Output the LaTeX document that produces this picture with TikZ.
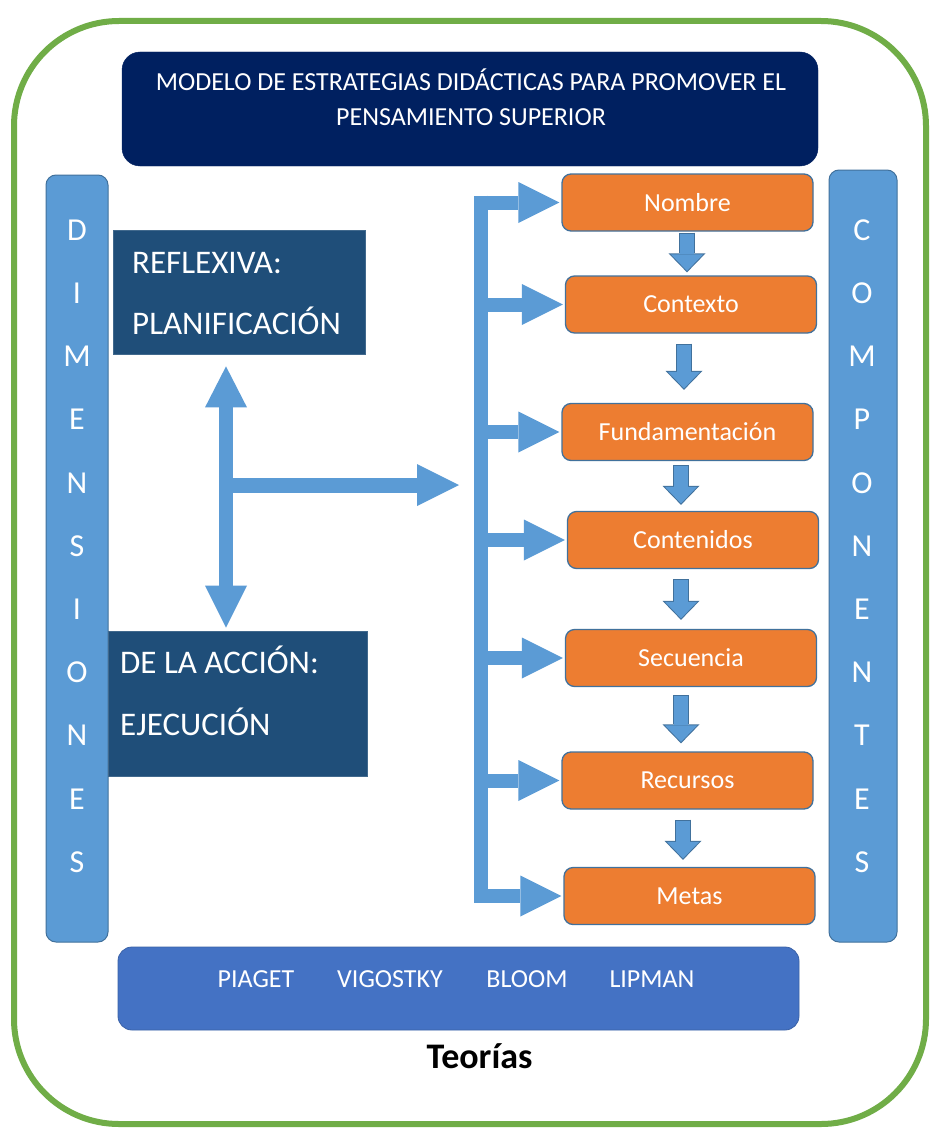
\documentclass[tikz,border=0pt]{standalone}
\usepackage{fontspec}
\setmainfont{Carlito}
\usetikzlibrary{arrows.meta,calc}
\definecolor{frgreen}{HTML}{70AD47}
\definecolor{navy}{HTML}{002060}
\definecolor{barblue}{HTML}{5B9BD5}
\definecolor{bordblue}{HTML}{41719C}
\definecolor{dimblue}{HTML}{1F4E79}
\definecolor{orng}{HTML}{ED7D31}
\definecolor{teoblue}{HTML}{4472C4}
\newcommand\blockdown[5]{%
  \pgfmathsetmacro\shA{#4+1}%
  \pgfmathsetmacro\shB{#5+1.43}%
  \coordinate (tmpx) at (#1,0);
  \draw[line width=16pt, draw=bordblue, shorten <=#4pt, shorten >=#5pt,
        -{Triangle[width=37pt,length=19pt,line width=0pt]}] (tmpx |- #2.south) -- (tmpx |- #3.north);
  \draw[line width=14pt, draw=barblue, shorten <=\shA pt, shorten >=\shB pt,
        -{Triangle[width=32.3pt,length=16.6pt,line width=0pt]}] (tmpx |- #2.south) -- (tmpx |- #3.north);
}
\begin{document}
\begin{tikzpicture}[x=1pt,y=-1pt,
  comp/.style={draw=bordblue, line width=1.3pt, fill=orng, rounded corners=9pt,
    minimum width=251pt, minimum height=57pt, text=white,
    font=\fontsize{26}{30}\selectfont, inner sep=0pt},
  sidebar/.style={draw=bordblue, line width=1pt, fill=barblue, rounded corners=10pt, inner sep=0pt},
  barletter/.style={text=white, font=\fontsize{32}{36}\selectfont, inner sep=0pt},
  dimbox/.style={fill=dimblue, draw=dimblue!85!white, line width=0.8pt, inner sep=0pt},
  dimtext/.style={text=white, font=\fontsize{33}{36}\selectfont, inner sep=0pt, anchor=base west},
  titletext/.style={text=white, font=\fontsize{26}{30}\selectfont, inner sep=0pt, anchor=base},
  teotext/.style={text=white, font=\fontsize{26}{30}\selectfont, inner sep=0pt, anchor=base},
  armline/.style={line width=14pt, draw=barblue},
  armarrow/.style={line width=14pt, draw=barblue, shorten >=2pt,
    -{Triangle[width=41pt,length=41pt,line width=0pt]}}
]
\useasboundingbox (0,0) rectangle (933,1129);
\fill[white] (0,0) rectangle (933,1129);

% outer frame
\draw[frgreen, line width=6pt, rounded corners=105pt] (14,21) rectangle (926,1124);

% title
\node[fill=navy, draw=navy, rounded corners=18pt, minimum width=696pt, minimum height=114pt, inner sep=0pt] (title) at (470,109) {};
\node[titletext] (t1) at (471,91) {MODELO DE ESTRATEGIAS DIDÁCTICAS PARA PROMOVER EL};
\node[titletext] (t2) at (471,125) {PENSAMIENTO SUPERIOR};

% side bars
\node[sidebar, minimum width=62pt, minimum height=767pt] (dimbar) at (77,558.5) {};
\node[sidebar, minimum width=68pt, minimum height=772pt] (compbar) at (863,556) {};
\foreach \l [count=\i from 0] in {D,I,M,E,N,S,I,O,N,E,S}
  \node[barletter] (dl\i) at (77,{230+63.2*\i}) {\l};
\foreach \l [count=\i from 0] in {C,O,M,P,O,N,E,N,T,E,S}
  \node[barletter] (cl\i) at (862,{230+63.2*\i}) {\l};

% dimension boxes
\node[dimbox, minimum width=252pt, minimum height=124pt] (refl) at (239,292) {};
\node[dimtext] (refl1) at (132,273) {REFLEXIVA:};
\node[dimtext] (refl2) at (132,334) {PLANIFICACIÓN};
\node[dimbox, minimum width=259pt, minimum height=145pt] (accion) at (237.5,703.5) {};
\node[dimtext] (acc1) at (120,673) {DE LA ACCIÓN:};
\node[dimtext] (acc2) at (120,735) {EJECUCIÓN};

% components
\node[comp] (nombre) at (687.5,202.5) {Nombre};
\node[comp] (contexto) at (691,304.5) {Contexto};
\node[comp] (fund) at (687.5,432) {Fundamentación};
\node[comp] (conten) at (693,540) {Contenidos};
\node[comp] (secu) at (691,658) {Secuencia};
\node[comp] (recur) at (687.5,780.5) {Recursos};
\node[comp] (metas) at (689.5,896) {Metas};

% down arrows between components
\blockdown{687}{nombre}{contexto}{1}{3}
\blockdown{684}{contexto}{fund}{10}{13}
\blockdown{681}{fund}{conten}{4}{6}
\blockdown{681}{conten}{secu}{10}{9}
\blockdown{681}{secu}{recur}{8}{8}
\blockdown{683}{recur}{metas}{10}{7}

% bracket
\coordinate (barx) at (474,0);
\coordinate (barc) at (481,0);
\draw[armline] ($(barc |- nombre.west)+(0,-7)$) -- ($(barc |- metas.west)+(0,7)$);
\foreach \n in {nombre,contexto,fund,conten,secu,recur,metas}
  \draw[armarrow] (barx |- \n.west) -- (\n.west);

% double arrow between dimensions
\coordinate (dvx) at (226,0);
\draw[line width=14pt, draw=barblue, shorten <=12pt, shorten >=3pt,
  {Triangle[width=42pt,length=41pt,line width=0pt]}-{Triangle[width=42pt,length=42pt,line width=0pt]}]
  (dvx |- refl.south) -- (dvx |- accion.north);

% horizontal arrow to the bracket
\coordinate (hstart) at (219,485);
\draw[line width=15pt, draw=barblue, shorten >=15pt,
  -{Triangle[width=42pt,length=42pt,line width=0pt]}] (hstart) -- (barx |- hstart);

% theories
\node[fill=teoblue, draw=teoblue!85!black, line width=0.8pt, rounded corners=14pt,
  minimum width=681pt, minimum height=83pt, inner sep=0pt] (teo) at (458.5,988.5) {};
\node[teotext] (piaget) at (256,987) {PIAGET};
\node[teotext] (vigo) at (390,987) {VIGOSTKY};
\node[teotext] (bloom) at (527,987) {BLOOM};
\node[teotext] (lipman) at (652,987) {LIPMAN};
\node[font=\bfseries\fontsize{36}{40}\selectfont, anchor=base, inner sep=0pt] (teolabel) at (479.5,1068) {Teorías};
\end{tikzpicture}
\end{document}
